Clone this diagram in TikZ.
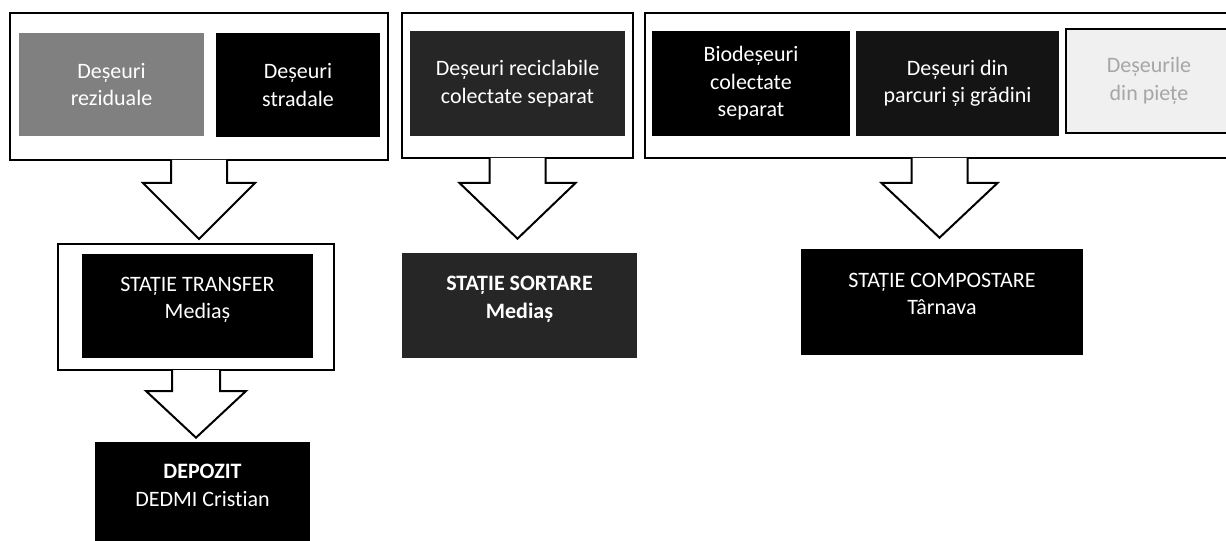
\documentclass[tikz,border=0pt]{standalone}
\usepackage{fontspec}
\setmainfont{Carlito}[Ligatures=NoCommon]
\usetikzlibrary{calc}

\begin{document}
\begin{tikzpicture}[x=0.6pt, y=-0.6pt,
  frame/.style={draw, line width=1.2pt},
  darkbox/.style={fill=black, text=white, align=center, inner sep=0pt,
    font=\fontsize{13.2}{16.5}\selectfont},
  stationbox/.style={darkbox, text depth=10pt}]
\useasboundingbox (0,0) rectangle (1226,541);

% grupuri de colectare
\node[frame, minimum width=226.8pt, minimum height=88.2pt] (grupRez) at (199,86.5) {};
\node[darkbox, fill=black!50, minimum width=111pt, minimum height=61.8pt] (reziduale) at (111.5,84.5) {Deșeuri\\reziduale};
\node[darkbox, minimum width=98.4pt, minimum height=62.4pt] (stradale) at (298,85) {Deșeuri\\stradale};

\node[frame, minimum width=138.6pt, minimum height=87pt] (grupRec) at (517.5,85.5) {};
\node[darkbox, fill=black!85, minimum width=129pt, minimum height=63pt] (reciclabile) at (517.5,83.5) {Deșeuri reciclabile\\colectate separat};

\node[frame, minimum width=353.4pt, minimum height=87pt] (grupBio) at (939.5,85.5) {};
\node[darkbox, minimum width=118.8pt, minimum height=63pt] (biodeseuri) at (751,83.5) {Biodeșeuri\\colectate\\separat};
\node[darkbox, fill=black!92, minimum width=121.8pt, minimum height=63pt] (parcuri) at (957.5,83.5) {Deșeuri din\\parcuri și grădini};
\node[darkbox, draw, line width=1.2pt, fill=black!6, text=black!35, minimum width=99.6pt, minimum height=62.4pt] (piete) at (1149,81) {Deșeurile\\din piețe};

% statii
\node[frame, minimum width=165.6pt, minimum height=75.6pt] (grupTransfer) at (196,307) {};
\node[stationbox, minimum width=138.6pt, minimum height=62.4pt] (transfer) at (197.5,306) {STAȚIE TRANSFER\\Mediaș};
\node[stationbox, minimum width=129pt, minimum height=61.8pt] (depozit) at (202.5,493.5) {\textbf{DEPOZIT}\\DEDMI Cristian};
\node[stationbox, fill=black!85, minimum width=141pt, minimum height=63pt, font=\fontsize{13.2}{16.5}\selectfont\bfseries] (sortare) at (519.5,305.5) {STAȚIE SORTARE\\Mediaș};
\node[stationbox, minimum width=169.2pt, minimum height=63.6pt] (compost) at (942,302) {STAȚIE COMPOSTARE\\Târnava};

% sageti
\draw[frame, fill=white] ($(grupRez.south)+(-28,-1)$) -- ++(0,23) -- ++(-28,0)
  -- ($(grupRez.south |- grupTransfer.north)+(0,-4)$)
  -- ($(grupRez.south)+(56,22)$) -- ++(-28,0) -- ($(grupRez.south)+(28,-1)$);
\draw[frame, fill=white] ($(grupRec.south)+(-28,-1)$) -- ++(0,25) -- ++(-30,0)
  -- ($(grupRec.south |- sortare.north)+(0,-14)$)
  -- ($(grupRec.south)+(58,24)$) -- ++(-30,0) -- ($(grupRec.south)+(28,-1)$);
\draw[frame, fill=white] ($(grupBio.south)+(-28,-1)$) -- ++(0,25) -- ++(-30,0)
  -- ($(grupBio.south |- compost.north)+(0,-11)$)
  -- ($(grupBio.south)+(58,24)$) -- ++(-30,0) -- ($(grupBio.south)+(28,-1)$);
\draw[frame, fill=white] ($(grupTransfer.south)+(-24,-1)$) -- ++(0,21) -- ++(-26,0)
  -- ($(grupTransfer.south |- depozit.north)+(0,-4)$)
  -- ($(grupTransfer.south)+(50,20)$) -- ++(-26,0) -- ($(grupTransfer.south)+(24,-1)$);
\end{tikzpicture}
\end{document}
